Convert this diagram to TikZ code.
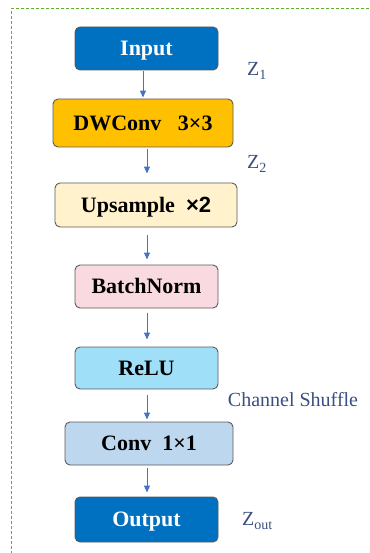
\documentclass[tikz,border=0pt]{standalone}
\usepackage{fontspec}
\setmainfont{Liberation Serif}
\newfontfamily\sansb{Liberation Sans}
\usetikzlibrary{arrows.meta,calc}
\definecolor{dblue}{HTML}{0070C0}
\definecolor{gold}{HTML}{FFC000}
\definecolor{cream}{HTML}{FFF2CC}
\definecolor{pinkf}{HTML}{F9DAE0}
\definecolor{cyanf}{HTML}{9FDFF7}
\definecolor{lblue}{HTML}{BDD7EE}
\definecolor{arrowc}{HTML}{4472C4}
\definecolor{labc}{HTML}{3A4F7F}
\definecolor{edgec}{HTML}{5A5A5A}
\definecolor{dashg}{HTML}{5FAE32}
\tikzset{
  blk/.style={draw=edgec, line width=0.9pt, rounded corners=5pt, inner sep=0pt,
    text height=14.5pt, text depth=0pt,
    font=\fontsize{22}{26}\selectfont\bfseries, text=black},
  arr/.style={draw=arrowc, line width=1pt, -{Triangle[length=7pt,width=6pt]}},
  lab/.style={text=labc, font=\fontsize{20}{24}\selectfont, inner sep=0pt},
}
\begin{document}
\begin{tikzpicture}[x=1pt,y=-1pt]
\useasboundingbox (0,0) rectangle (369,553);
\draw[draw=dashg, line width=1pt, dash pattern=on 3pt off 2pt] (369,9) -- (11,9) -- (11,553);
\node[blk, fill=dblue, text=white, minimum width=143pt, minimum height=43pt] (in) at (146.5,48.5) {Input};
\node[blk, fill=gold, minimum width=180pt, minimum height=48pt] (dw) at (143,123) {DWConv\ \ \ 3×3};
\node[blk, fill=cream, minimum width=182pt, minimum height=44pt] (up) at (146,205) {Upsample\ \ {\sansb\bfseries ×2}};
\node[blk, fill=pinkf, minimum width=143pt, minimum height=43pt] (bn) at (146.5,286.5) {BatchNorm};
\node[blk, fill=cyanf, minimum width=143pt, minimum height=42pt] (re) at (146.5,368) {ReLU};
\node[blk, fill=lblue, minimum width=168pt, minimum height=43pt] (cv) at (149,443.5) {Conv\ \ 1×1};
\node[blk, fill=dblue, text=white, minimum width=143pt, minimum height=45pt] (out) at (146.5,519.5) {Output};
\coordinate (ax1) at (143,0);
\coordinate (ax) at (147,0);
\draw[arr, shorten <=1pt, shorten >=1pt] (in.south -| ax1) -- (dw.north -| ax1);
\draw[arr, shorten <=2pt, shorten >=9pt] (dw.south -| ax) -- (up.north -| ax);
\draw[arr, shorten <=8pt, shorten >=5pt] (up.south -| ax) -- (bn.north -| ax);
\draw[arr, shorten <=5pt, shorten >=7pt] (bn.south -| ax) -- (re.north -| ax);
\draw[arr, shorten <=6pt, shorten >=2pt] (re.south -| ax) -- (cv.north -| ax);
\draw[arr, shorten <=3pt, shorten >=4pt] (cv.south -| ax) -- (out.north -| ax);
\node[lab, anchor=west] (z1) at (247,71) {Z\textsubscript{1}};
\node[lab, anchor=west] (z2) at (247,164) {Z\textsubscript{2}};
\node[lab] (cs) at (293,400) {Channel Shuffle};
\node[lab, anchor=west] (zo) at (242,521) {Z\textsubscript{out}};
\end{tikzpicture}
\end{document}
